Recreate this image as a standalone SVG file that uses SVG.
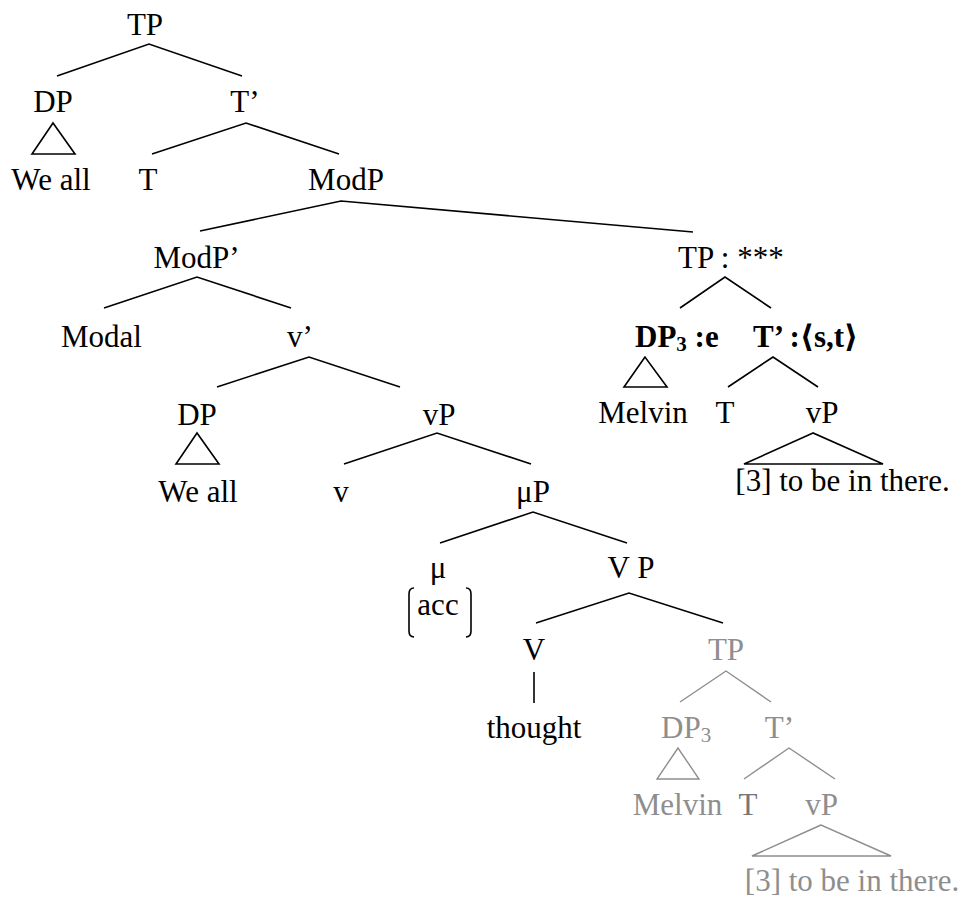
<svg xmlns="http://www.w3.org/2000/svg" width="964" height="899" viewBox="0 0 964 899">
<style>
text{font-family:"Liberation Serif","DejaVu Serif",serif;font-size:31px;fill:#000;text-anchor:middle}
.g{fill:#8e8e8e}
.gd{fill:#767676}
.b{font-weight:bold}
.l{text-anchor:start}
.e line,.e polyline,.e polygon,.e path{stroke:#000;stroke-width:1.6;fill:none}
.e .gl{stroke:#8e8e8e;stroke-width:1.4}
</style>
<rect width="964" height="899" fill="#fff"/>
<g id="connectors" class="e">
<polyline points="57,76 149,44 242,76"/>
<polygon points="53,123 32,154 75,154"/>
<polyline points="152,154 246,123 339,154"/>
<polyline points="200,231 341,201 693,232"/>
<polyline points="104,308 197,277 291,308"/>
<polyline points="217,387 309,357 400,387"/>
<polygon points="197,433 176,464 219,464"/>
<polyline points="344,464 437,433 531,464"/>
<polyline points="440,543 533,512 627,543"/>
<path d="M414,588 Q409,588 409,594 L409,631 Q409,637 414,637"/>
<path d="M466,588 Q471,588 471,594 L471,631 Q471,637 466,637"/>
<polyline points="536,623 629,593 723,623"/>
<line x1="534" y1="672" x2="534" y2="703"/>
<polyline points="680,308 725,277 771,308"/>
<polygon points="645,357 624,387 667,387"/>
<polyline points="728,387 773,357 818,387"/>
<polygon points="813,433 744,464 883,464"/>
<polyline class="gl" points="680,702 726,671 771,702"/>
<polygon class="gl" points="678,748 657,779 699,779"/>
<polyline class="gl" points="744,779 789,748 835,779"/>
<polygon class="gl" points="821,825 752,856 891,856"/>
</g>
<g id="n-tp"><text x="145" y="35">TP</text></g>
<g id="n-dp"><text x="53" y="112">DP</text></g>
<g id="n-tbar"><text x="245" y="112">T’</text></g>
<g id="n-weall"><text x="51" y="190">We all</text></g>
<g id="n-t"><text x="148" y="190">T</text></g>
<g id="n-modp"><text x="346" y="190">ModP</text></g>
<g id="n-modpbar"><text x="196.5" y="268">ModP’</text></g>
<g id="n-modal"><text x="101.5" y="347">Modal</text></g>
<g id="n-vbar"><text x="300" y="347">v’</text></g>
<g id="n-dp2"><text x="197" y="425">DP</text></g>
<g id="n-weall2"><text x="198" y="502">We all</text></g>
<g id="n-vp"><text x="439" y="425">vP</text></g>
<g id="n-v"><text x="341" y="502">v</text></g>
<g id="n-mup"><text x="533" y="502">μP</text></g>
<g id="n-mu"><text x="438" y="578">μ</text><text x="438" y="615">acc</text></g>
<g id="n-VP"><text x="631" y="578">V P</text></g>
<g id="n-V"><text x="534" y="660">V</text></g>
<g id="n-thought"><text x="534" y="738">thought</text></g>
<g id="n-tp2"><text class="l" x="678" y="268">TP : ***</text></g>
<g id="n-dp3"><text class="b l" x="635" y="347">DP<tspan font-size="21" dy="4">3</tspan><tspan dy="-4"> :e</tspan></text></g>
<g id="n-tbar2"><text class="b l" x="753" y="347">T’ :⟨s,t⟩</text></g>
<g id="n-melvin"><text x="643" y="423">Melvin</text></g>
<g id="n-t2"><text x="725" y="423">T</text></g>
<g id="n-vp2"><text x="822" y="423">vP</text></g>
<g id="n-there"><text x="842.5" y="491">[3] to be in there.</text></g>
<g id="n-tp3"><text class="g" x="726" y="660">TP</text></g>
<g id="n-dp3g"><text class="g l" x="661" y="738">DP<tspan font-size="21" dy="4">3</tspan></text></g>
<g id="n-tbar3"><text class="g" x="779.5" y="738">T’</text></g>
<g id="n-melvin2"><text class="g" x="677.5" y="815">Melvin</text></g>
<g id="n-t3"><text class="gd" x="748" y="815">T</text></g>
<g id="n-vp3"><text class="g" x="821.5" y="815">vP</text></g>
<g id="n-there2"><text class="g" x="852" y="891">[3] to be in there.</text></g>
</svg>
